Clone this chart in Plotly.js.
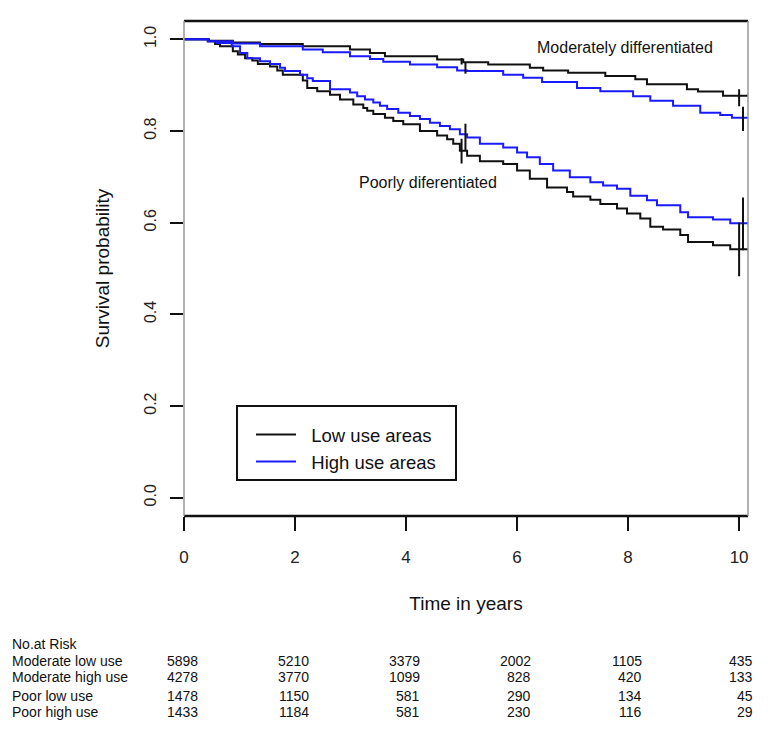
<!DOCTYPE html>
<html><head><meta charset="utf-8">
<script src="https://cdn.plot.ly/plotly-3.0.1.min.js"></script>
<style>html,body{margin:0;padding:0;background:#fff}</style>
</head><body><div id="chart" style="width:768px;height:732px"></div>
<script>
// ---- data ----
const modLowT  = [0,0.45,0.88,1.37,2.14,2.99,3.35,3.62,4.56,5.03,5.48,6.23,6.47,6.92,7.59,8.13,8.34,9.06,9.26,9.71,10.16];
const modLowS  = [1,0.997,0.993,0.990,0.985,0.978,0.970,0.963,0.956,0.950,0.945,0.938,0.932,0.927,0.920,0.913,0.902,0.891,0.886,0.877,0.877];
const modHighT = [0,0.43,0.88,1.37,2.14,2.50,2.99,3.35,3.59,4.07,4.56,4.92,5.10,5.75,6.11,6.45,7.08,7.50,8.09,8.40,8.81,9.30,9.66,9.87,10.16];
const modHighS = [1,0.996,0.991,0.985,0.978,0.972,0.963,0.957,0.951,0.945,0.939,0.932,0.931,0.923,0.916,0.907,0.894,0.887,0.876,0.866,0.855,0.840,0.835,0.829,0.829];
const poorLowT = [0,0.43,0.56,0.65,0.88,0.97,1.10,1.23,1.33,1.55,1.68,1.78,2.14,2.22,2.40,2.63,2.81,3.05,3.23,3.30,3.41,3.62,3.77,3.95,4.25,4.56,4.74,4.85,4.97,5.10,5.33,5.75,6.00,6.23,6.54,6.90,7.01,7.32,7.50,7.80,7.98,8.22,8.40,8.63,8.94,9.08,9.53,9.84,10.16];
const poorLowS = [1,0.996,0.990,0.985,0.974,0.967,0.959,0.954,0.946,0.941,0.932,0.923,0.910,0.894,0.887,0.879,0.869,0.858,0.850,0.844,0.837,0.829,0.822,0.815,0.800,0.790,0.782,0.772,0.757,0.746,0.734,0.728,0.714,0.696,0.677,0.667,0.657,0.650,0.641,0.631,0.620,0.609,0.591,0.585,0.573,0.558,0.551,0.542,0.542];
const poorHighT = [0,0.43,0.59,0.86,1.01,1.14,1.37,1.55,1.73,1.82,2.09,2.22,2.32,2.63,2.99,3.12,3.26,3.41,3.53,3.66,3.86,4.07,4.25,4.43,4.61,4.79,4.97,5.10,5.33,5.75,6.00,6.18,6.41,6.65,6.95,7.32,7.55,7.80,8.04,8.34,8.52,8.94,9.08,9.53,9.84,10.16];
const poorHighS = [1,0.996,0.992,0.985,0.970,0.959,0.952,0.946,0.938,0.931,0.923,0.915,0.909,0.891,0.884,0.876,0.869,0.862,0.855,0.848,0.840,0.833,0.826,0.818,0.811,0.804,0.793,0.786,0.772,0.764,0.753,0.743,0.728,0.714,0.699,0.688,0.681,0.674,0.659,0.649,0.638,0.623,0.612,0.607,0.599,0.599];

// confidence bars at 5 and 10 years
const ciTLow  = [5.0, 10.0];
const ciTHigh = [5.07, 10.07];
const modLowLo = [0.945, 0.854],  modLowHi = [0.959, 0.891];
const modHighLo = [0.925, 0.800], modHighHi = [0.949, 0.853];
const poorLowLo = [0.729, 0.483], poorLowHi = [0.783, 0.600];
const poorHighLo = [0.758, 0.540], poorHighHi = [0.816, 0.655];

const xTicks = [0,2,4,6,8,10];
const yTicks = [0,0.2,0.4,0.6,0.8,1.0];
const yTickText = ["0.0","0.2","0.4","0.6","0.8","1.0"];

const riskTitle = "No.at Risk";
const riskTimes = [0,2,4,6,8,10];
const riskGroups = ["Moderate low use","Moderate high use","Poor low use","Poor high use"];
const riskModLow  = [5898,5210,3379,2002,1105,435];
const riskModHigh = [4278,3770,1099,828,420,133];
const riskPoorLow = [1478,1150,581,290,134,45];
const riskPoorHigh= [1433,1184,581,230,116,29];

const legendNames = ["Low use areas","High use areas"];
const labelModerate = "Moderately differentiated";
const labelPoor = "Poorly diferentiated";

// ---- layout helpers ----
const W = 768, H = 732;
const M = {l:184, r:20, t:21, b:216};
const PW = W - M.l - M.r, PH = H - M.t - M.b;
const px2x = px => (px - M.l) / PW;
const py2y = py => (H - M.b - py) / PH;
const FONT = '"Liberation Sans", Arial, sans-serif';
const BLACK = '#111111', BLUE = '#1a1aff';
const PAD = '\u00a0\u00a0';

function ciTrace(t, lo, hi){
  const x=[], y=[];
  for(let i=0;i<t.length;i++){ x.push(t[i],t[i],null); y.push(lo[i],hi[i],null); }
  return {x, y, mode:'lines', line:{color:BLACK, width:2}, showlegend:false, hoverinfo:'skip'};
}

const traces = [
  {x:modLowT, y:modLowS, mode:'lines', line:{shape:'hv', color:BLACK, width:2}, name:PAD+legendNames[0], legendgroup:'low'},
  {x:modHighT, y:modHighS, mode:'lines', line:{shape:'hv', color:BLUE, width:2}, name:PAD+legendNames[1], legendgroup:'high'},
  {x:poorLowT, y:poorLowS, mode:'lines', line:{shape:'hv', color:BLACK, width:2}, name:legendNames[0], legendgroup:'low', showlegend:false},
  {x:poorHighT, y:poorHighS, mode:'lines', line:{shape:'hv', color:BLUE, width:2}, name:legendNames[1], legendgroup:'high', showlegend:false},
  ciTrace(ciTLow, modLowLo, modLowHi),
  ciTrace(ciTHigh, modHighLo, modHighHi),
  ciTrace(ciTLow, poorLowLo, poorLowHi),
  ciTrace(ciTHigh, poorHighLo, poorHighHi)
];

const annotations = [
  {x:6.33, y:0.983, xref:'x', yref:'y', text:labelModerate, showarrow:false, xanchor:'left', yanchor:'middle', font:{family:FONT, size:16, color:'#111'}},
  {x:3.11, y:0.688, xref:'x', yref:'y', text:labelPoor, showarrow:false, xanchor:'left', yanchor:'middle', font:{family:FONT, size:16, color:'#111'}},
  {x:px2x(10), y:py2y(644), xref:'paper', yref:'paper', text:riskTitle, showarrow:false, xanchor:'left', yanchor:'middle', font:{family:FONT, size:14, color:'#111'}}
];
const rowY = [661, 677, 696, 712];
const riskRows = [riskModLow, riskModHigh, riskPoorLow, riskPoorHigh];
riskGroups.forEach((g, r) => {
  annotations.push({x:px2x(10), y:py2y(rowY[r]), xref:'paper', yref:'paper', text:g, showarrow:false, xanchor:'left', yanchor:'middle', font:{family:FONT, size:14, color:'#111'}});
  riskTimes.forEach((t, i) => {
    annotations.push({x:t, y:py2y(rowY[r]), xref:'x', yref:'paper', text:String(riskRows[r][i]), showarrow:false, xanchor:'right', xshift:16, yanchor:'middle', font:{family:FONT, size:14, color:'#111'}});
  });
});

const shapes = [
  {type:'line', xref:'paper', yref:'paper', x0:0, x1:1, y0:1, y1:1, line:{color:'#111', width:2.5}},
  {type:'line', xref:'paper', yref:'paper', x0:0, x1:1, y0:0, y1:0, line:{color:'#111', width:2.5}},
  {type:'line', xref:'paper', yref:'paper', x0:0, x1:0, y0:0, y1:1, line:{color:'#999', width:1.5}},
  {type:'line', xref:'paper', yref:'paper', x0:1, x1:1, y0:0, y1:1, line:{color:'#999', width:1.5}},
  {type:'rect', xref:'paper', yref:'paper', x0:px2x(237), x1:px2x(456), y0:py2y(480), y1:py2y(406), line:{color:'#111', width:2}}
];

const layout = {
  width:W, height:H, margin:M, paper_bgcolor:'#fff', plot_bgcolor:'#fff',
  font:{family:FONT, color:'#111'},
  xaxis:{range:[0,10.16], tickvals:xTicks, ticktext:xTicks.map(String), ticks:'outside', ticklen:14, tickwidth:2, tickcolor:'#111',
         showgrid:false, zeroline:false, showline:false, ticklabelstandoff:12,
         tickfont:{family:FONT, size:17, color:'#222'},
         title:{text:'Time in years', font:{family:FONT, size:19, color:'#111'}, standoff:30}},
  yaxis:{range:[-0.04,1.04], tickvals:yTicks, ticktext:yTickText, ticks:'outside', ticklen:13, tickwidth:2, tickcolor:'#111',
         showgrid:false, zeroline:false, showline:false, tickangle:-90, ticklabelstandoff:8,
         tickfont:{family:FONT, size:16, color:'#222'},
         title:{text:'Survival probability', font:{family:FONT, size:19, color:'#111'}, standoff:26}},
  showlegend:true,
  legend:{x:px2x(251), y:py2y(416), xanchor:'left', yanchor:'top', bgcolor:'rgba(0,0,0,0)', borderwidth:0,
          font:{family:FONT, size:18.5, color:'#111'}, itemwidth:40, tracegroupgap:0},
  annotations, shapes
};

Plotly.newPlot('chart', traces, layout, {staticPlot:true, displayModeBar:false});
</script>
</body></html>
